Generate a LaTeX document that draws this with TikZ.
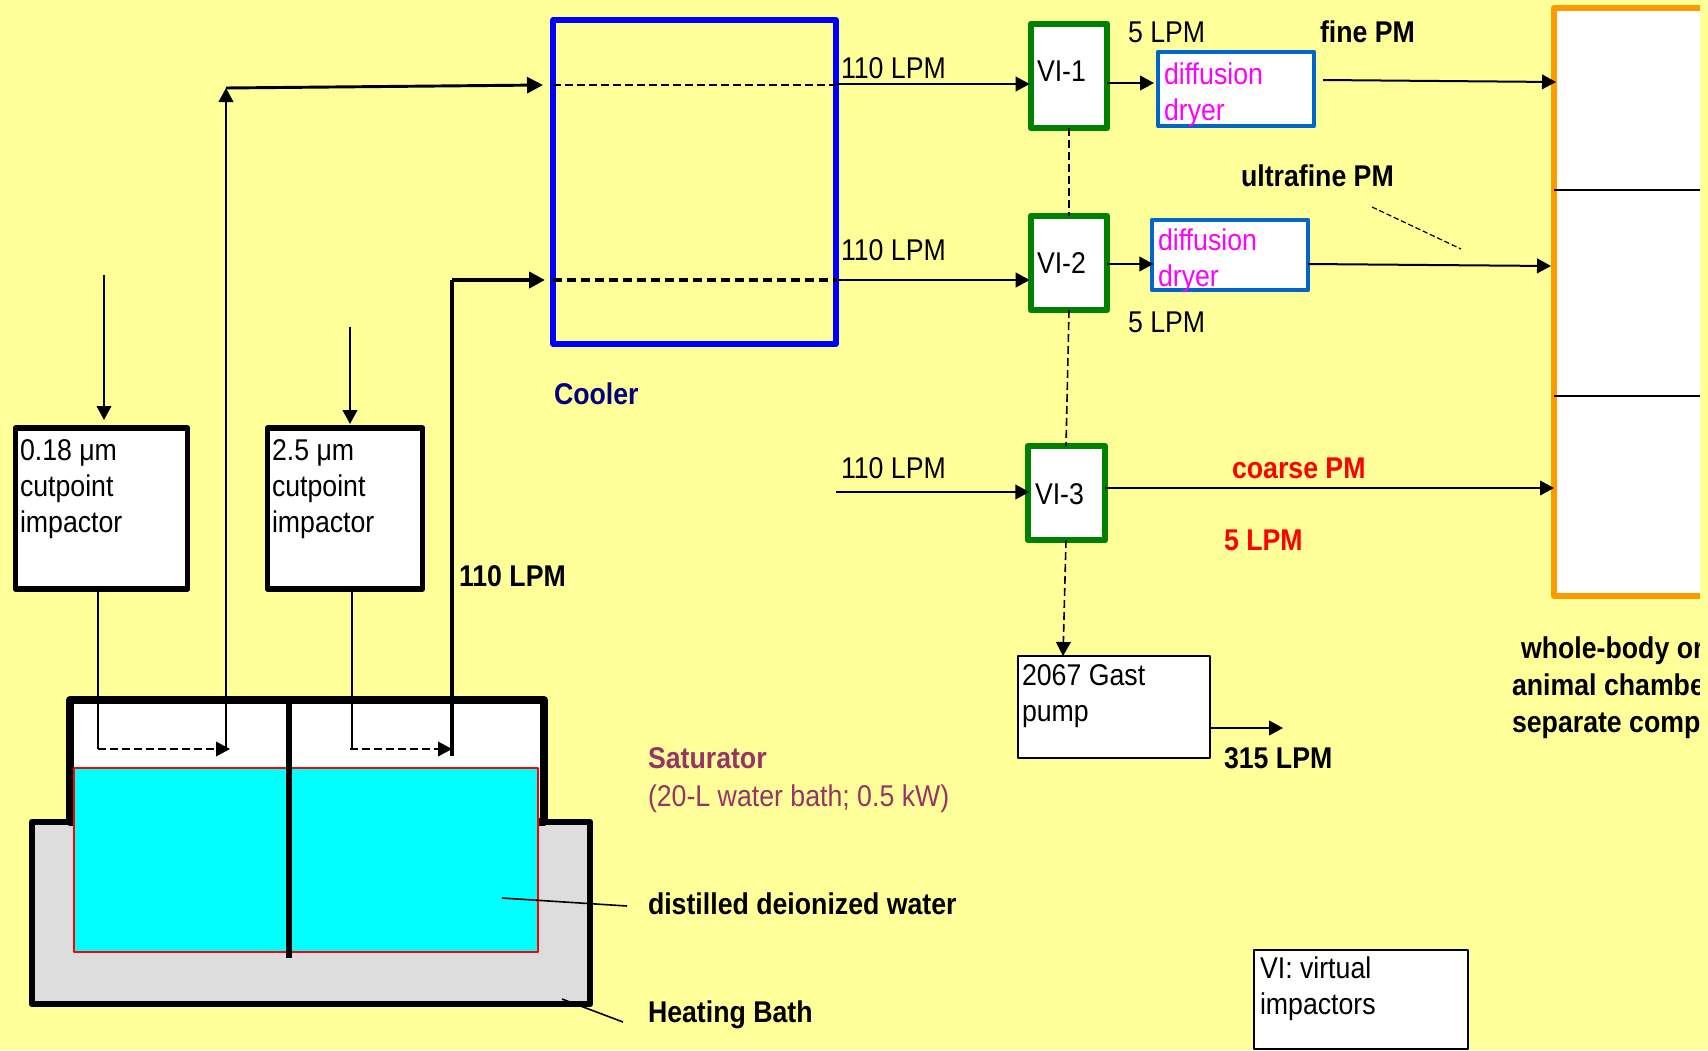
\documentclass[tikz,border=0pt]{standalone}
\usepackage{fontspec}
\setmainfont[FakeStretch=0.89]{Liberation Sans}
\usetikzlibrary{arrows.meta}
\definecolor{bgy}{RGB}{255,255,153}
\definecolor{vigreen}{RGB}{0,128,0}
\definecolor{dryblue}{RGB}{0,102,204}
\definecolor{chamb}{RGB}{255,153,0}
\definecolor{bathgray}{RGB}{221,221,221}
\definecolor{satpurple}{RGB}{153,51,102}
\definecolor{coolnavy}{RGB}{0,0,128}
\definecolor{wcyan}{RGB}{0,255,255}
\definecolor{dmagenta}{RGB}{255,0,255}
\definecolor{pred}{RGB}{255,0,0}
\definecolor{pblue}{RGB}{0,0,255}
\newcommand\bx[6]{\node[#1,anchor=north west,minimum width={((#5)-(#3))*0.75pt},minimum height={((#6)-(#4))*0.75pt}] (#2) at (#3,#4) {};}
\newcommand\fl{\rule{0pt}{16.5pt}}
% #1 style, #2 name, #3 x, #4 first baseline, #5 text
\newcommand\tx[5]{\path (#3,#4) ++(0,-22) node[txt,#1] (#2) {\fl #5};}
\tikzset{
  box/.style={rectangle,inner sep=0pt,outer sep=0pt,line join=round},
  vibox/.style={box,draw=vigreen,fill=white,line width=5pt},
  drybox/.style={box,draw=dryblue,fill=white,line width=3.2pt},
  impbox/.style={box,draw=black,fill=white,line width=4.2pt},
  thinbox/.style={box,draw=black,fill=white,line width=1.4pt},
  txt/.style={anchor=north west,inner sep=0pt,outer sep=0pt,align=left,font=\fontsize{22.5pt}{27pt}\selectfont,text=black},
  bld/.style={font=\fontsize{22.5pt}{27pt}\selectfont\bfseries},
  arr/.style={line width=1.5pt,-{Triangle[length=10.5pt,width=11pt]}},
  plain/.style={line width=1.5pt},
  dsh/.style={line width=1.2pt,dash pattern=on 6pt off 3pt},
}
\begin{document}
\begin{tikzpicture}[x=0.75pt,y=-0.75pt]
\useasboundingbox (0,0) rectangle (1708,1050);
\fill[bgy] (0,0) rectangle (1708,1050);

% saturator
\bx{box,draw=black,fill=bathgray,line width=5pt}{bath}{32}{822}{590}{1004}
\bx{box,draw=black,fill=white,line width=6.2pt}{sat}{70}{700}{544}{822}
\bx{box,draw=pred,fill=wcyan,line width=1.2pt}{water}{74}{768}{538}{952}
\coordinate (divtop) at (289,700);
\coordinate (divbot) at (289,958);
\draw[line width=4.5pt] (divtop) -- (divbot);

% impactors
\bx{impbox}{imp1}{15.5}{428}{187.5}{589}
\bx{impbox}{imp2}{267.5}{428}{422.5}{589}
% cooler
\bx{box,draw=pblue,line width=4pt}{cooler}{553}{20}{836}{344}
% virtual impactors
\bx{vibox}{vi1}{1031}{24}{1107}{128}
\bx{vibox}{vi2}{1031}{216}{1107}{310}
\bx{vibox}{vi3}{1028}{446}{1105}{540}
% dryers
\bx{drybox}{dry1}{1158}{52}{1314}{126}
\bx{drybox}{dry2}{1152}{220}{1308}{290}
% pump and legend
\bx{thinbox}{pump}{1018}{656}{1210}{758}
\bx{thinbox}{legend}{1254}{950}{1468}{1049}
% chamber
\bx{box,draw=chamb,fill=white,line width=4.5pt}{chamber}{1554}{8}{1720}{596}
\coordinate (chl1) at (1554,190);
\coordinate (chr1) at (1700,190);
\coordinate (chl2) at (1554,396);
\coordinate (chr2) at (1700,396);
\draw[line width=1.2pt] (chl1) -- (chr1);
\draw[line width=1.2pt] (chl2) -- (chr2);

% inlets
\coordinate (in1) at (104,275);
\coordinate (in2) at (350,327);
\draw[arr,shorten >=6pt] (in1) -- (imp1.north -| in1);
\draw[arr,shorten >=3pt] (in2) -- (imp2.north -| in2);

% impactor to saturator
\coordinate (d1s) at (98,749);
\coordinate (d1e) at (230,749);
\coordinate (d2s) at (350,749);
\coordinate (d2e) at (452,749);
\draw[plain] (imp1.south -| d1s) -- (d1s);
\draw[plain] (imp2.south -| 352,0) -- (352,749);
\draw[dsh,-{Triangle[length=10.5pt,width=11pt]}] (d1s) -- (d1e);
\draw[dsh,-{Triangle[length=10.5pt,width=11pt]}] (d2s) -- (d2e);

% saturator to cooler
\coordinate (up1b) at (226,749);
\coordinate (up1t) at (226,88);
\coordinate (cin1) at (543,85);
\coordinate (up2b) at (452,756);
\coordinate (up2t) at (452,280);
\coordinate (cin2) at (545,280);
\draw[arr] (up1b) -- (up1t);
\draw[line width=2.2pt,-{Triangle[length=12pt,width=12pt]}] (up1t) -- (cin1);
\draw[line width=3pt] (up2b) -- (up2t);
\draw[line width=3pt,-{Triangle[length=12pt,width=12pt]}] (up2t) -- (cin2);

% cooler through-lines
\coordinate (cw1) at (553,85);
\coordinate (ce1) at (836,85);
\coordinate (cw2) at (553,280);
\coordinate (ce2) at (836,280);
\draw[dsh] (cw1) -- (ce1);
\draw[line width=3pt,dash pattern=on 7pt off 3.5pt] (cw2) -- (ce2);
\draw[arr,shorten >=1pt] (ce1 |- 0,84) -- (vi1.west |- 0,84);
\draw[arr,shorten >=1pt] (ce2) -- (vi2.west |- 0,280);
\coordinate (in3) at (836,492);
\draw[arr,shorten >=-1pt] (in3) -- (vi3.west |- in3);

% VI outlets
\coordinate (o1) at (1107,83);
\coordinate (o2) at (1107,264);
\draw[arr,shorten >=3pt] (o1) -- (dry1.west |- o1);
\draw[arr,shorten >=-1pt] (o2) -- (dry2.west |- o2);
\coordinate (f1) at (1323,80);
\coordinate (f1e) at (1556,82);
\coordinate (f2) at (1308,264);
\coordinate (f2e) at (1551,266);
\coordinate (f3) at (1105,488);
\coordinate (f3e) at (1554,488);
\draw[arr] (f1) -- (f1e);
\draw[arr] (f2) -- (f2e);
\draw[arr] (f3) -- (f3e);

% minor flow
\draw[dsh] (vi1.south) -- (vi2.north);
\coordinate (v3t) at (1066,446);
\draw[dsh] (vi2.south) -- (v3t);
\coordinate (v3b) at (1066,540);
\coordinate (ptop) at (1063,656);
\draw[dsh,-{Triangle[length=10.5pt,width=11pt]}] (v3b) -- (ptop);
\coordinate (pout) at (1210,728);
\coordinate (poute) at (1283,728);
\draw[arr] (pout) -- (poute);

% leaders
\coordinate (dg1) at (1372,207);
\coordinate (dg2) at (1461,249);
\draw[line width=.9pt,dash pattern=on 4pt off 2pt] (dg1) -- (dg2);
\coordinate (wl1) at (502,898);
\coordinate (wl2) at (627,906);
\draw[line width=1.2pt] (wl1) -- (wl2);
\coordinate (hl1) at (562,999);
\coordinate (hl2) at (623,1022);
\draw[line width=1.2pt] (hl1) -- (hl2);

% text
\tx{}{t1}{841}{78}{110 LPM}
\tx{}{t2}{841}{260}{110 LPM}
\tx{}{t3}{841}{478}{110 LPM}
\tx{}{t4}{1128}{42}{5 LPM}
\tx{}{t5}{1128}{332}{5 LPM}
\tx{bld}{t6}{1320}{42}{fine PM}
\tx{bld}{t7}{1241}{186}{ultrafine PM}
\tx{text=dmagenta}{t8}{1164}{84}{diffusion\\dryer}
\tx{text=dmagenta}{t9}{1158}{250}{diffusion\\dryer}
\tx{}{t10}{1037}{81}{VI-1}
\tx{}{t11}{1037}{273}{VI-2}
\tx{}{t12}{1035}{504}{VI-3}
\tx{bld,text=pred}{t13}{1232}{478}{coarse PM}
\tx{bld,text=pred}{t14}{1224}{550}{5 LPM}
\tx{}{t15}{1022}{685}{2067 Gast\\pump}
\tx{bld}{t16}{1224}{768}{315 LPM}
\tx{bld}{t17}{1521}{658}{whole-body or}
\tx{bld}{t18}{1512}{695}{animal chambe}
\tx{bld}{t19}{1512}{732}{separate comp}
\tx{bld,text=satpurple}{t20}{648}{768}{Saturator}
\tx{text=satpurple}{t21}{648}{806}{(20-L water bath; 0.5 kW)}
\tx{bld}{t22}{648}{914}{distilled deionized water}
\tx{bld}{t23}{648}{1022}{Heating Bath}
\tx{bld,text=coolnavy}{t24}{554}{404}{Cooler}
\tx{bld}{t25}{459}{586}{110 LPM}
\tx{}{t26}{20}{460}{0.18 μm\\cutpoint\\impactor}
\tx{}{t27}{272}{460}{2.5 μm\\cutpoint\\impactor}
\tx{}{t28}{1260}{978}{VI: virtual\\impactors}

% clipped right margin
\fill[bgy] (1700,0) rectangle (1708,1050);
\end{tikzpicture}
\end{document}
